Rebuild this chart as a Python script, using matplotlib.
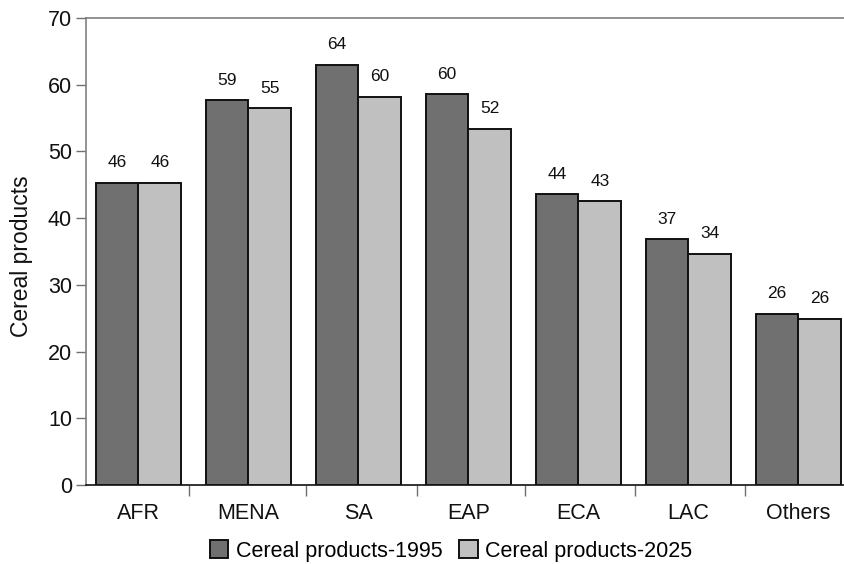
import matplotlib
matplotlib.use("Agg")
import matplotlib.pyplot as plt
import numpy as np

categories = ["AFR", "MENA", "SA", "EAP", "ECA", "LAC", "Others"]
values_1995 = [45.3, 57.7, 63.0, 58.6, 43.6, 36.8, 25.7]
values_2025 = [45.3, 56.5, 58.2, 53.4, 42.5, 34.7, 24.9]
labels_1995 = ["46", "59", "64", "60", "44", "37", "26"]
labels_2025 = ["46", "55", "60", "52", "43", "34", "26"]
series_names = ["Cereal products-1995", "Cereal products-2025"]
y_ticks = [0, 10, 20, 30, 40, 50, 60, 70]

plt.rcParams['font.family'] = ['Liberation Sans', 'DejaVu Sans']

W, H = 845, 564
fig = plt.figure(figsize=(W / 100, H / 100), dpi=100)
left_px, right_px, top_px, bottom_px = 86, 853.5, 18, 485
ax = fig.add_axes([left_px / W, 1 - bottom_px / H,
                   (right_px - left_px) / W, (bottom_px - top_px) / H])

x = np.arange(len(categories))
bw = 0.39
c1, c2 = "#707070", "#c0c0c0"
b1 = ax.bar(x - bw / 2, values_1995, bw, color=c1, edgecolor="#111111",
            linewidth=1.4, label=series_names[0], zorder=3)
b2 = ax.bar(x + bw / 2, values_2025, bw, color=c2, edgecolor="#111111",
            linewidth=1.4, label=series_names[1], zorder=3)

for rect, lab in zip(b1, labels_1995):
    ax.annotate(lab, (rect.get_x() + rect.get_width() / 2, rect.get_height()),
                xytext=(0, 20), textcoords="offset pixels", ha="center",
                va="center", fontsize=12.5, color="#111111")
for rect, lab in zip(b2, labels_2025):
    ax.annotate(lab, (rect.get_x() + rect.get_width() / 2, rect.get_height()),
                xytext=(0, 20), textcoords="offset pixels", ha="center",
                va="center", fontsize=12.5, color="#111111")

ax.set_xlim(-0.477, 6.5)
ax.set_ylim(0, 70)
ax.set_yticks(y_ticks)
ax.set_yticklabels([str(t) for t in y_ticks], fontsize=15.5, color="#111111")
ax.set_xticks(x)
ax.set_xticklabels(categories, fontsize=15.5, color="#111111")
ax.set_xticks([0.46, 1.52, 2.53, 3.51, 4.51, 5.51], minor=True)
ax.tick_params(axis="x", which="major", length=0, pad=13)
ax.tick_params(axis="x", which="minor", length=8, width=1.0, color="#707070",
               direction="out")
ax.tick_params(axis="y", length=7, width=1.0, color="#707070", pad=3)

for s in ["left", "top"]:
    ax.spines[s].set_color("#808080")
    ax.spines[s].set_linewidth(1.2)
ax.spines["right"].set_visible(False)
ax.spines["bottom"].set_color("#111111")
ax.spines["bottom"].set_linewidth(1.2)

ax.set_ylabel("Cereal products", fontsize=16.5, color="#111111")
ax.yaxis.set_label_coords((33 - left_px) / (right_px - left_px),
                          (bottom_px - 256) / (bottom_px - top_px))

leg = fig.legend(handles=[b1, b2], labels=series_names, loc="center",
                 bbox_to_anchor=(451 / W, 1 - 551 / H), ncol=2, frameon=False,
                 fontsize=15.5, handlelength=0.85, handleheight=0.85,
                 handletextpad=0.35, columnspacing=0.8, borderaxespad=0)

fig.savefig("out.png", dpi=100)
